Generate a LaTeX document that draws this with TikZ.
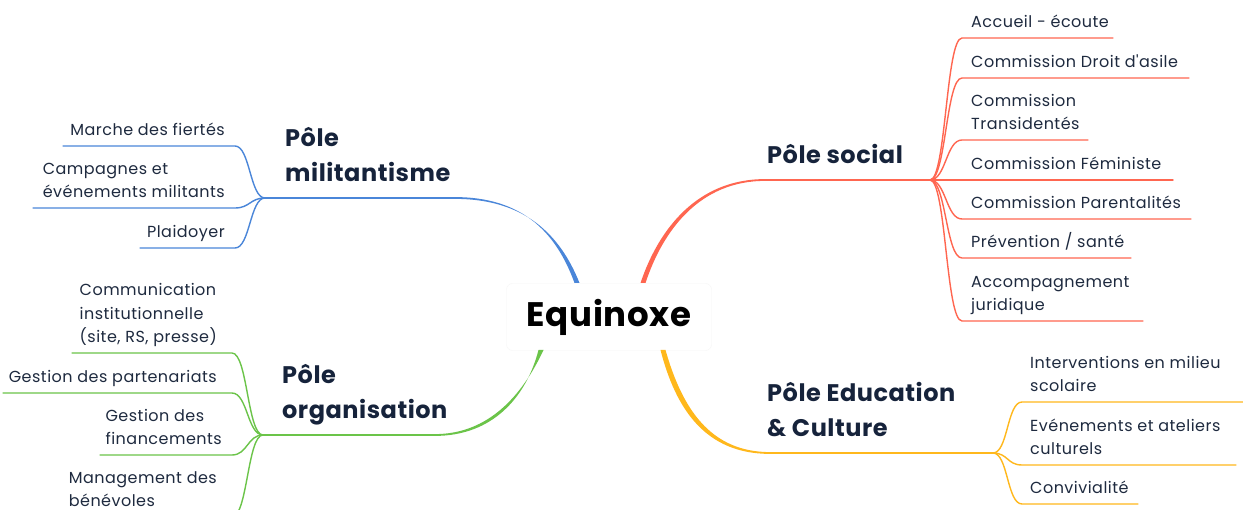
\documentclass[tikz,border=0pt]{standalone}
\usepackage{fontspec}
\setmainfont{Poppins}[Ligatures=TeXOff]
\usetikzlibrary{calc}
\definecolor{cblue}{HTML}{4A86D9}
\definecolor{cred}{HTML}{FF6650}
\definecolor{cgreen}{HTML}{6BC449}
\definecolor{cyellow}{HTML}{FFB81C}
\definecolor{ctext}{HTML}{1E2A3F}
\definecolor{cmain}{HTML}{16233B}
\tikzset{
  leaf/.style={inner sep=0pt, align=left, text=ctext, yshift=-1pt,
    font=\fontsize{16}{23.5}\selectfont\addfontfeatures{LetterSpace=3}, execute at end node=\strut},
  pole/.style={inner sep=0pt, align=left, text=cmain, yshift=-1.5pt,
    font=\fontsize{24}{35}\selectfont\bfseries\addfontfeatures{LetterSpace=2.2}, execute at end node=\strut},
  twig/.style={line width=1.4pt, line cap=round},
  limb/.style={line width=1.8pt, line cap=round},
}
\begin{document}
\begin{tikzpicture}[x=1pt,y=-1pt]
\useasboundingbox (0,0) rectangle (1243,510);
\fill[white] (0,0) rectangle (1243,510);

% central node
\node[draw=black!4, fill=white, rounded corners=6pt, minimum width=205pt, minimum height=67pt,
  font=\fontsize{34}{40}\selectfont\bfseries\addfontfeatures{LetterSpace=2}] (root) at (609,317) {Equinoxe};

% forks and branch points
\coordinate (Fm) at (265,198);
\coordinate (Fo) at (263,435);
\coordinate (Fs) at (930,180);
\coordinate (Fe) at (993,453);
\coordinate (hb) at (455,198);
\coordinate (hr) at (765,180);
\coordinate (hg) at (435,435);
\coordinate (hy) at (770,453);

% main branches (tapered)
\fill[cblue] (574.5,283) .. controls (556,232) and (522,197.1) .. (455,197.1)
  -- (455,198.9) .. controls (524,198.9) and (560,234) .. (579.5,283) -- cycle;
\draw[cblue, limb] (hb) -- (Fm);
\fill[cred] (640.5,283) .. controls (659,228) and (698,179.1) .. (765,179.1)
  -- (765,180.9) .. controls (700,180.9) and (663,230) .. (645.5,283) -- cycle;
\draw[cred, limb] (hr) -- (Fs);
\fill[cgreen] (538.5,350) .. controls (526,398) and (492,435.9) .. (435,435.9)
  -- (435,434.1) .. controls (488,434.1) and (522,396) .. (543.5,350) -- cycle;
\draw[cgreen, limb] (hg) -- (Fo);
\fill[cyellow] (660.5,350) .. controls (676,410) and (706,453.9) .. (770,453.9)
  -- (770,452.1) .. controls (710,452.1) and (682,408) .. (665.5,350) -- cycle;
\draw[cyellow, limb] (hy) -- (Fe);

% pole labels
\node[pole, anchor=south west] (pm) at (285,190.5) {Pôle\\militantisme};
\node[pole, anchor=south west] (ps) at (767,172.5) {Pôle social};
\node[pole, anchor=south west] (po) at (282,427.5) {Pôle\\organisation};
\node[pole, anchor=south west] (pe) at (767,445.5) {Pôle Education\\\& Culture};

% ---- militantisme leaves
\node[leaf, anchor=south east] (m1) at (225,142) {Marche des fiertés};
\node[leaf, anchor=south east] (m2) at (225,204) {Campagnes et\\événements militants};
\node[leaf, anchor=south east] (m3) at (225,244) {Plaidoyer};
\coordinate (m1a) at (63,146);  \coordinate (m1b) at (235,146);
\coordinate (m2a) at (33,208);  \coordinate (m2b) at (235,208);
\coordinate (m3a) at (140,248); \coordinate (m3b) at (235,248);
\foreach \k in {m1,m2,m3}{
  \draw[cblue, twig] (\k a) -- (\k b) .. controls ($(\k b)+(15,0)$) and ($(Fm)+(-15,0)$) .. (Fm);
}

% ---- organisation leaves
\node[leaf, anchor=south east] (o1) at (217,349) {Communication\\institutionnelle\\(site, RS, presse)};
\node[leaf, anchor=south east] (o2) at (217,389) {Gestion des partenariats};
\node[leaf, anchor=south east] (o3) at (222,451) {Gestion des\\financements};
\node[leaf, anchor=south east] (o4) at (217,513) {Management des\\bénévoles};
\coordinate (o1a) at (72,353);  \coordinate (o1b) at (232,353);
\coordinate (o2a) at (3,393);   \coordinate (o2b) at (232,393);
\coordinate (o3a) at (100,455); \coordinate (o3b) at (232,455);
\coordinate (o4a) at (62,517);  \coordinate (o4b) at (232,517);
\foreach \k in {o1,o2,o3,o4}{
  \draw[cgreen, twig] (\k a) -- (\k b) .. controls ($(\k b)+(15.5,0)$) and ($(Fo)+(-15.5,0)$) .. (Fo);
}

% ---- social leaves
\node[leaf, anchor=south west] (s1) at (971,34) {Accueil - écoute};
\node[leaf, anchor=south west] (s2) at (971,74) {Commission Droit d'asile};
\node[leaf, anchor=south west] (s3) at (971,136) {Commission\\Transidentés};
\node[leaf, anchor=south west] (s4) at (971,176) {Commission Féministe};
\node[leaf, anchor=south west] (s5) at (971,215) {Commission Parentalités};
\node[leaf, anchor=south west] (s6) at (971,254) {Prévention / santé};
\node[leaf, anchor=south west] (s7) at (971,317) {Accompagnement\\juridique};
\coordinate (s1a) at (962,38);  \coordinate (s1b) at (1113,38);
\coordinate (s2a) at (962,78);  \coordinate (s2b) at (1189,78);
\coordinate (s3a) at (962,140); \coordinate (s3b) at (1088,140);
\coordinate (s4a) at (962,180); \coordinate (s4b) at (1173,180);
\coordinate (s5a) at (962,219); \coordinate (s5b) at (1191,219);
\coordinate (s6a) at (962,258); \coordinate (s6b) at (1131,258);
\coordinate (s7a) at (962,321); \coordinate (s7b) at (1143,321);
\foreach \k in {s1,s2,s3,s4,s5,s6,s7}{
  \draw[cred, twig] (Fs) .. controls ($(Fs)+(16,0)$) and ($(\k a)+(-16,0)$) .. (\k a) -- (\k b);
}

% ---- education leaves
\node[leaf, anchor=south west] (e1) at (1030,398) {Interventions en milieu\\scolaire};
\node[leaf, anchor=south west] (e2) at (1030,461) {Evénements et ateliers\\culturels};
\node[leaf, anchor=south west] (e3) at (1030,500) {Convivialité};
\coordinate (e1a) at (1022,402); \coordinate (e1b) at (1245,402);
\coordinate (e2a) at (1022,465); \coordinate (e2b) at (1236,465);
\coordinate (e3a) at (1022,504); \coordinate (e3b) at (1138,504);
\foreach \k in {e1,e2,e3}{
  \draw[cyellow, twig] (Fe) .. controls ($(Fe)+(15,0)$) and ($(\k a)+(-15,0)$) .. (\k a) -- (\k b);
}
\end{tikzpicture}
\end{document}
